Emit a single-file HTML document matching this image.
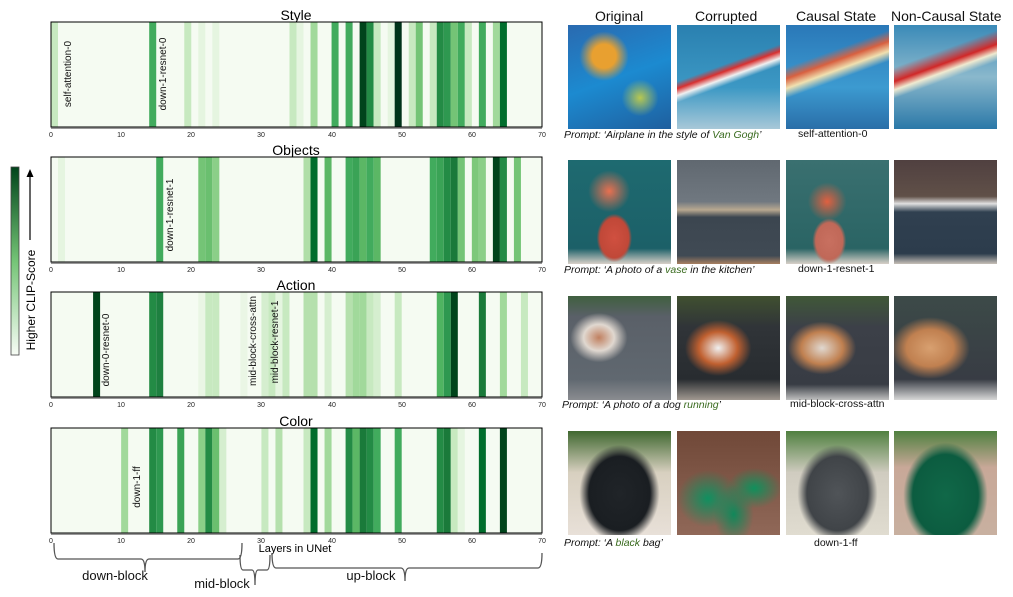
<!DOCTYPE html>
<html><head><meta charset="utf-8"><style>
body{margin:0;width:1013px;height:597px;background:#fff;position:relative;overflow:hidden;font-family:"Liberation Sans",sans-serif}
.im{position:absolute;width:103px;height:104px}
.h{position:absolute;top:8px;font-size:14px;color:#111;white-space:nowrap}
.p{position:absolute;font-style:italic;font-size:10.5px;color:#111;white-space:nowrap}
.p b{font-weight:normal;color:#3a6b1f}
.c{position:absolute;font-size:10.5px;color:#111;white-space:nowrap}
</style></head><body>
<svg width="560" height="597" style="position:absolute;left:0;top:0" font-family="Liberation Sans, sans-serif">
<defs><linearGradient id="cb" x1="0" y1="1" x2="0" y2="0"><stop offset="0" stop-color="#f7fcf5"/><stop offset="0.5" stop-color="#74c476"/><stop offset="1" stop-color="#00441b"/></linearGradient></defs>
<text x="296" y="20" font-size="14" text-anchor="middle">Style</text>
<text x="296" y="155" font-size="14" text-anchor="middle">Objects</text>
<text x="296" y="290" font-size="14" text-anchor="middle">Action</text>
<text x="296" y="426" font-size="14" text-anchor="middle">Color</text>
<!-- Style -->
<g transform="translate(51,22) scale(7.014,1)">
<rect x="0" y="0" width="70" height="105" fill="#f5fbf2"/>
<g>
<rect x="0" width="1" height="105" fill="#c7e9c0"/><rect x="14" width="1" height="105" fill="#41ab5d"/><rect x="19" width="1" height="105" fill="#c7e9c0"/><rect x="21" width="1" height="105" fill="#e5f5e0"/><rect x="23" width="1" height="105" fill="#e5f5e0"/><rect x="34" width="1" height="105" fill="#c7e9c0"/><rect x="35" width="1" height="105" fill="#e5f5e0"/><rect x="37" width="1" height="105" fill="#a1d99b"/><rect x="40" width="1" height="105" fill="#41ab5d"/><rect x="42" width="1" height="105" fill="#41ab5d"/><rect x="44" width="1" height="105" fill="#00441b"/><rect x="45" width="1" height="105" fill="#238b45"/><rect x="46" width="1" height="105" fill="#c7e9c0"/><rect x="48" width="1" height="105" fill="#e5f5e0"/><rect x="49" width="1" height="105" fill="#00331a"/><rect x="51" width="1" height="105" fill="#c7e9c0"/><rect x="52" width="1" height="105" fill="#74c476"/><rect x="54" width="1" height="105" fill="#c7e9c0"/><rect x="55" width="1" height="105" fill="#238b45"/><rect x="56" width="1" height="105" fill="#2e9850"/><rect x="57" width="1" height="105" fill="#74c476"/><rect x="58" width="1" height="105" fill="#41ab5d"/><rect x="59" width="1" height="105" fill="#c7e9c0"/><rect x="61" width="1" height="105" fill="#41ab5d"/><rect x="63" width="1" height="105" fill="#a1d99b"/><rect x="64" width="1" height="105" fill="#006d2c"/>
</g></g>
<!-- Objects -->
<g transform="translate(51,157) scale(7.014,1)">
<rect x="0" width="70" height="105" fill="#f5fbf2"/>
<rect x="1" width="1" height="105" fill="#e5f5e0"/><rect x="15" width="1" height="105" fill="#41ab5d"/><rect x="21" width="1" height="105" fill="#74c476"/><rect x="22" width="1" height="105" fill="#6abf6f"/><rect x="23" width="1" height="105" fill="#8bcf88"/><rect x="36" width="1" height="105" fill="#b0dea8"/><rect x="37" width="1" height="105" fill="#006d2c"/><rect x="39" width="1" height="105" fill="#5bb765"/><rect x="42" width="1" height="105" fill="#41ab5d"/><rect x="43" width="1" height="105" fill="#3aa356"/><rect x="44" width="1" height="105" fill="#5bb765"/><rect x="45" width="1" height="105" fill="#41ab5d"/><rect x="46" width="1" height="105" fill="#5bb765"/><rect x="54" width="1" height="105" fill="#41ab5d"/><rect x="55" width="1" height="105" fill="#3aa356"/><rect x="56" width="1" height="105" fill="#238b45"/><rect x="57" width="1" height="105" fill="#1a7a3a"/><rect x="58" width="1" height="105" fill="#74c476"/><rect x="60" width="1" height="105" fill="#7dc87a"/><rect x="61" width="1" height="105" fill="#8bcf88"/><rect x="63" width="1" height="105" fill="#00441b"/><rect x="64" width="1" height="105" fill="#238b45"/><rect x="66" width="1" height="105" fill="#74c476"/>
</g>
<!-- Action -->
<g transform="translate(51,292) scale(7.014,1)">
<rect x="0" width="70" height="105" fill="#f5fbf2"/>
<rect x="6" width="1" height="105" fill="#00441b"/><rect x="14" width="1" height="105" fill="#238b45"/><rect x="15" width="1" height="105" fill="#1e8040"/><rect x="21" width="1" height="105" fill="#eaf6e5"/><rect x="22" width="1" height="105" fill="#c7e9c0"/><rect x="23" width="1" height="105" fill="#c7e9c0"/><rect x="27" width="1" height="105" fill="#eaf6e5"/><rect x="30" width="1" height="105" fill="#d5eecf"/><rect x="31" width="1" height="105" fill="#c7e9c0"/><rect x="32" width="1" height="105" fill="#e5f5e0"/><rect x="33" width="1" height="105" fill="#c7e9c0"/><rect x="36" width="1" height="105" fill="#b5e0ad"/><rect x="37" width="1" height="105" fill="#b5e0ad"/><rect x="39" width="1" height="105" fill="#d5eecf"/><rect x="42" width="1" height="105" fill="#b5e0ad"/><rect x="43" width="1" height="105" fill="#a1d99b"/><rect x="44" width="1" height="105" fill="#a1d99b"/><rect x="45" width="1" height="105" fill="#c7e9c0"/><rect x="46" width="1" height="105" fill="#d5eecf"/><rect x="49" width="1" height="105" fill="#c7e9c0"/><rect x="55" width="1" height="105" fill="#4fb461"/><rect x="56" width="1" height="105" fill="#2e9850"/><rect x="57" width="1" height="105" fill="#00441b"/><rect x="61" width="1" height="105" fill="#1a7a3a"/><rect x="64" width="1" height="105" fill="#a1d99b"/><rect x="67" width="1" height="105" fill="#c7e9c0"/>
</g>
<!-- Color -->
<g transform="translate(51,428) scale(7.014,1)">
<rect x="0" width="70" height="105" fill="#f5fbf2"/>
<rect x="10" width="1" height="105" fill="#a1d99b"/><rect x="14" width="1" height="105" fill="#238b45"/><rect x="15" width="1" height="105" fill="#2e9850"/><rect x="18" width="1" height="105" fill="#3aa356"/><rect x="21" width="1" height="105" fill="#8bcf88"/><rect x="22" width="1" height="105" fill="#238b45"/><rect x="23" width="1" height="105" fill="#6abf6f"/><rect x="24" width="1" height="105" fill="#d5eecf"/><rect x="30" width="1" height="105" fill="#c7e9c0"/><rect x="32" width="1" height="105" fill="#b5e0ad"/><rect x="36" width="1" height="105" fill="#c7e9c0"/><rect x="37" width="1" height="105" fill="#006d2c"/><rect x="39" width="1" height="105" fill="#a1d99b"/><rect x="42" width="1" height="105" fill="#238b45"/><rect x="43" width="1" height="105" fill="#5bb765"/><rect x="44" width="1" height="105" fill="#1a7a3a"/><rect x="45" width="1" height="105" fill="#238b45"/><rect x="46" width="1" height="105" fill="#41ab5d"/><rect x="49" width="1" height="105" fill="#41ab5d"/><rect x="55" width="1" height="105" fill="#238b45"/><rect x="56" width="1" height="105" fill="#1a7a3a"/><rect x="57" width="1" height="105" fill="#c7e9c0"/><rect x="58" width="1" height="105" fill="#e5f5e0"/><rect x="61" width="1" height="105" fill="#006d2c"/><rect x="64" width="1" height="105" fill="#00441b"/>
</g>
<g fill="none" stroke="#000" stroke-width="1">
<rect x="51" y="22" width="491" height="105"/><rect x="51" y="157" width="491" height="105"/><rect x="51" y="292" width="491" height="105"/><rect x="51" y="428" width="491" height="105"/>
</g>
<g stroke="#777" stroke-width="1.5"><line x1="51" y1="128" x2="542" y2="128"/><line x1="51" y1="263" x2="542" y2="263"/><line x1="51" y1="398" x2="542" y2="398"/><line x1="51" y1="534" x2="542" y2="534"/></g>
<g font-size="7" text-anchor="middle" fill="#222">
<g transform="translate(0,137)"><text x="51">0</text><text x="121">10</text><text x="191">20</text><text x="261">30</text><text x="332">40</text><text x="402">50</text><text x="472">60</text><text x="542">70</text></g>
<g transform="translate(0,272)"><text x="51">0</text><text x="121">10</text><text x="191">20</text><text x="261">30</text><text x="332">40</text><text x="402">50</text><text x="472">60</text><text x="542">70</text></g>
<g transform="translate(0,407)"><text x="51">0</text><text x="121">10</text><text x="191">20</text><text x="261">30</text><text x="332">40</text><text x="402">50</text><text x="472">60</text><text x="542">70</text></g>
<g transform="translate(0,543)"><text x="51">0</text><text x="121">10</text><text x="191">20</text><text x="261">30</text><text x="332">40</text><text x="402">50</text><text x="472">60</text><text x="542">70</text></g>
</g>
<g font-size="10" text-anchor="middle" fill="#111">
<text transform="translate(71,74) rotate(-90)">self-attention-0</text>
<text transform="translate(166,74) rotate(-90)">down-1-resnet-0</text>
<text transform="translate(173,215) rotate(-90)">down-1-resnet-1</text>
<text transform="translate(109,350) rotate(-90)">down-0-resnet-0</text>
<text transform="translate(256,341) rotate(-90)">mid-block-cross-attn</text>
<text transform="translate(278,342) rotate(-90)">mid-block-resnet-1</text>
<text transform="translate(140,487) rotate(-90)">down-1-ff</text>
</g>
<text x="295" y="552" font-size="11" text-anchor="middle">Layers in UNet</text>
<g fill="none" stroke="#555" stroke-width="1.3">
<path d="M54 543 Q54 559 58 559 L141 559 Q145 559 145 572 Q145 559 149 559 L238 559 Q242 559 242 543"/>
<path d="M240 555 Q240 570 243 570 L252 570 Q255 570 255 585 Q255 570 258 570 L267 570 Q270 570 270 555"/>
<path d="M272 553 Q272 568 276 568 L401 568 Q405 568 405 581 Q405 568 409 568 L538 568 Q542 568 542 553"/>
</g>
<g font-size="13" text-anchor="middle" fill="#111"><text x="115" y="580">down-block</text><text x="222" y="588">mid-block</text><text x="371" y="580">up-block</text></g>
<rect x="11" y="167" width="8" height="188" fill="url(#cb)" stroke="#444" stroke-width="0.8"/>
<line x1="30" y1="240" x2="30" y2="175" stroke="#000" stroke-width="1.2"/><path d="M26.5 177 L30 169 L33.5 177 Z" fill="#000"/>
<text transform="translate(35,300) rotate(-90)" font-size="12" text-anchor="middle">Higher CLIP-Score</text>
</svg>

<div class="h" style="left:595px">Original</div>
<div class="h" style="left:695px">Corrupted</div>
<div class="h" style="left:796px">Causal State</div>
<div class="h" style="left:891px">Non-Causal State</div>

<div class="im" style="left:568px;top:25px;background:radial-gradient(circle at 35% 30%,#e8a030 0,#e8a030 12%,transparent 25%),radial-gradient(circle at 70% 70%,#b8c850 0,transparent 18%),linear-gradient(160deg,#2a6ab0,#1c8ad0 50%,#1f5f9e)"></div>
<div class="im" style="left:677px;top:25px;background:linear-gradient(160deg,transparent 40%,#d83030 45%,#f0f0f0 50%,transparent 55%),linear-gradient(180deg,#2a80b0,#3c98c4 60%,#a8c8d8)"></div>
<div class="im" style="left:786px;top:25px;background:linear-gradient(160deg,transparent 30%,#d86040 38%,#f0e0b0 45%,transparent 52%),linear-gradient(180deg,#2a78b8,#3c9ad0 60%,#2a6ea8)"></div>
<div class="im" style="left:894px;top:25px;background:linear-gradient(160deg,transparent 30%,#d02828 40%,#f0ead0 46%,transparent 52%),linear-gradient(180deg,#3a8ab8,#8ab8cc 50%,#2a78a8)"></div>

<div class="im" style="left:568px;top:160px;background:radial-gradient(ellipse at 45% 75%,#d05040 0,#c04838 18%,transparent 22%),radial-gradient(circle at 40% 30%,#e87050 0,transparent 22%),linear-gradient(180deg,#1e6a70,#1c6068 85%,#d8d0c8)"></div>
<div class="im" style="left:677px;top:160px;background:linear-gradient(180deg,#606870 0,#707880 40%,#b8a890 48%,#3c4650 55%,#404a54 92%,#a88060)"></div>
<div class="im" style="left:786px;top:160px;background:radial-gradient(ellipse at 42% 78%,#c87060 0,#c06858 16%,transparent 20%),radial-gradient(circle at 40% 40%,#e06040 0,transparent 22%),linear-gradient(180deg,#3a7070,#2a6464 85%,#d8d0c8)"></div>
<div class="im" style="left:894px;top:160px;background:linear-gradient(180deg,#504040 0,#605048 35%,#e0e0e0 42%,#304050 50%,#2c3c4c 90%,#c8c0b8)"></div>

<div class="im" style="left:568px;top:296px;background:radial-gradient(ellipse at 30% 40%,#c08060 0,#e0d8d0 15%,transparent 28%),linear-gradient(180deg,#406040,#5a6068 20%,#606870 80%,#8a8c90)"></div>
<div class="im" style="left:677px;top:296px;background:radial-gradient(ellipse at 40% 50%,#f0f0f0 0,#c06030 22%,transparent 38%),linear-gradient(180deg,#405030,#303438 30%,#282c30 80%,#a09890)"></div>
<div class="im" style="left:786px;top:296px;background:radial-gradient(ellipse at 35% 50%,#e0d8d0 0,#c08050 22%,transparent 36%),linear-gradient(180deg,#405838,#3c4048 30%,#383c44 85%,#c0c0c0)"></div>
<div class="im" style="left:894px;top:296px;background:radial-gradient(ellipse at 35% 50%,#d8a070 0,#c08050 25%,transparent 42%),linear-gradient(180deg,#3c4a48,#383c44 80%,#d8d8d8)"></div>

<div class="im" style="left:568px;top:431px;background:radial-gradient(ellipse at 50% 60%,#202428 0,#1a1e22 42%,transparent 55%),linear-gradient(180deg,#406830,#d8d0c0 40%,#e8e0d8)"></div>
<div class="im" style="left:677px;top:431px;background:radial-gradient(ellipse at 30% 65%,#109060 0,transparent 30%),radial-gradient(ellipse at 75% 55%,#10905c 0,transparent 25%),radial-gradient(ellipse at 55% 80%,#10885a 0,transparent 25%),linear-gradient(180deg,#704838,#906858)"></div>
<div class="im" style="left:786px;top:431px;background:radial-gradient(ellipse at 50% 60%,#505458 0,#404448 42%,transparent 55%),linear-gradient(180deg,#508040,#d0ccc0 40%,#e0dcd0)"></div>
<div class="im" style="left:894px;top:431px;background:radial-gradient(ellipse at 50% 62%,#106848 0,#0c5c40 45%,transparent 58%),linear-gradient(180deg,#508040,#c8a898 35%,#c8b0a0)"></div>

<div class="p" style="left:564px;top:129px">Prompt: ‘Airplane in the style of <b>Van Gogh</b>’</div>
<div class="c" style="left:798px;top:128px">self-attention-0</div>
<div class="p" style="left:564px;top:264px">Prompt: ‘A photo of a <b>vase</b> in the kitchen’</div>
<div class="c" style="left:798px;top:263px">down-1-resnet-1</div>
<div class="p" style="left:562px;top:399px">Prompt: ‘A photo of a dog <b>running</b>’</div>
<div class="c" style="left:790px;top:398px">mid-block-cross-attn</div>
<div class="p" style="left:564px;top:537px">Prompt: ‘A <b>black</b> bag’</div>
<div class="c" style="left:814px;top:537px">down-1-ff</div>
</body></html>
